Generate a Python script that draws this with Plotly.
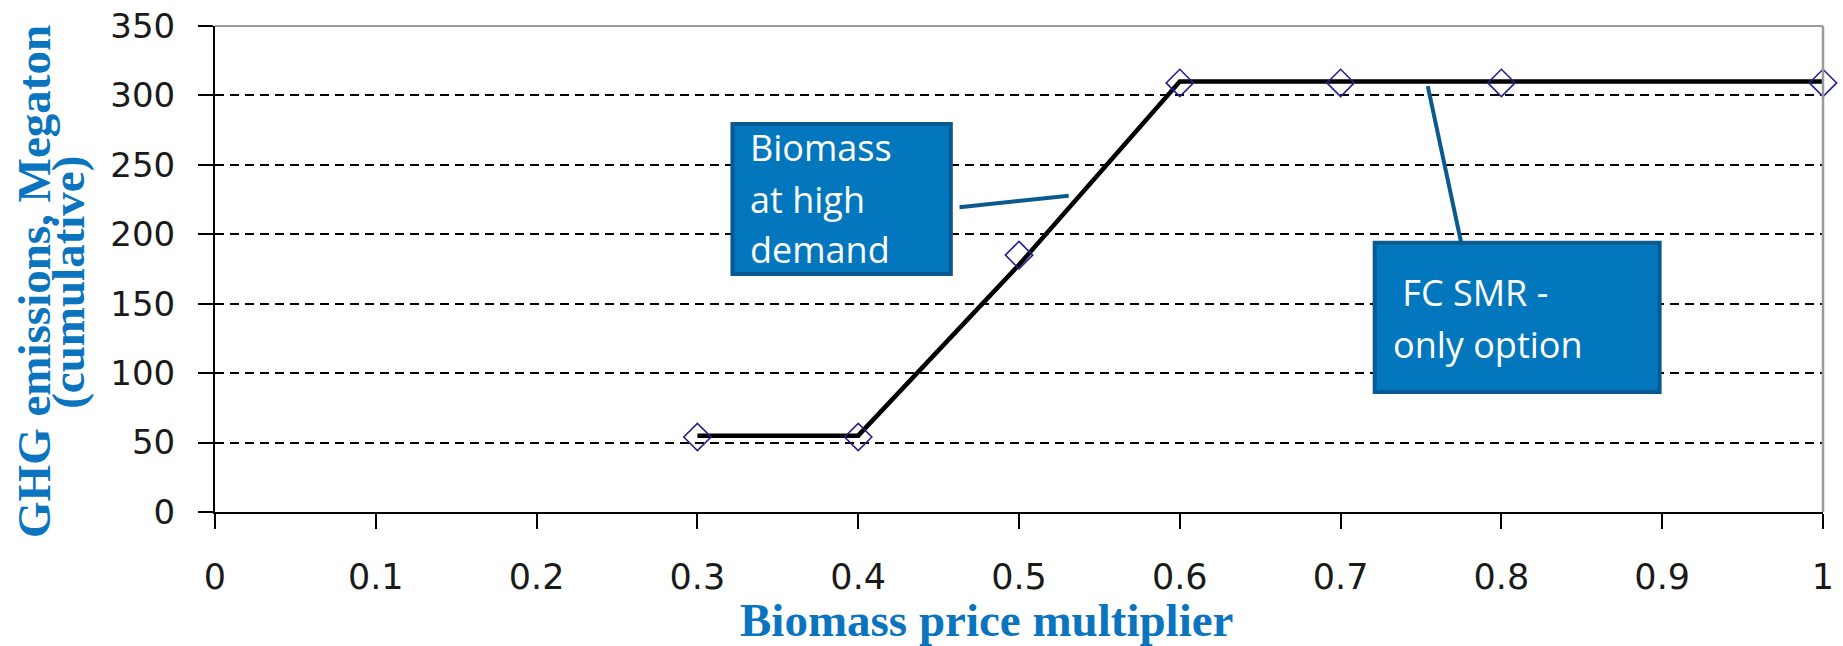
import plotly.graph_objects as go

# ---- data ----
price_multiplier = [0.3, 0.4, 0.5, 0.6, 0.7, 0.8, 1.0]
ghg_markers = [54, 54, 185, 309, 309, 309, 309]
ghg_line = [55, 55, 178, 310, 310, 310, 310]

x_tickvals = [0, 0.1, 0.2, 0.3, 0.4, 0.5, 0.6, 0.7, 0.8, 0.9, 1.0]
x_ticklabels = ["0", "0.1", "0.2", "0.3", "0.4", "0.5", "0.6", "0.7", "0.8", "0.9", "1"]
y_tickvals = [0, 50, 100, 150, 200, 250, 300, 350]

x_title = "Biomass price multiplier"
y_title_1 = "GHG emissions, Megaton"
y_title_2 = "(cumulative)"
callout_1 = ["Biomass", "at high", "demand"]
callout_2 = ["\u00a0FC SMR -", "only option"]

TITLE_BLUE = "#0A74BE"
BOX_FILL = "#0277BD"
BOX_EDGE = "#0B5A8F"

fig = go.Figure()

fig.add_trace(go.Scatter(
    x=price_multiplier, y=ghg_line, mode="lines",
    line=dict(color="black", width=4.5), cliponaxis=False, showlegend=False,
))
fig.add_trace(go.Scatter(
    x=price_multiplier, y=ghg_markers, mode="markers",
    marker=dict(symbol="diamond-open", size=21, color="#22228C",
                line=dict(width=1.6, color="#22228C")),
    cliponaxis=False, showlegend=False,
))

shapes = [
    # gray top and right frame
    dict(type="line", xref="paper", yref="paper", x0=0, x1=1, y0=1, y1=1,
         line=dict(color="#9A9A9A", width=2), layer="above"),
    dict(type="line", xref="paper", yref="paper", x0=1, x1=1, y0=0, y1=1,
         line=dict(color="#9A9A9A", width=2.5), layer="above"),
    # callout boxes
    dict(type="rect", xref="x", yref="y", x0=0.3218, x1=0.4576, y0=171.4, y1=279.4,
         fillcolor=BOX_FILL, line=dict(color=BOX_EDGE, width=4), layer="above"),
    dict(type="rect", xref="x", yref="y", x0=0.7212, x1=0.8984, y0=86.4, y1=193.9,
         fillcolor=BOX_FILL, line=dict(color=BOX_EDGE, width=4), layer="above"),
    # leader lines
    dict(type="line", xref="x", yref="y", x0=0.4630, y0=219.4, x1=0.5309, y1=227.8,
         line=dict(color=BOX_EDGE, width=4), layer="above"),
    dict(type="line", xref="x", yref="y", x0=0.7753, y0=192.3, x1=0.7542, y1=306.7,
         line=dict(color=BOX_EDGE, width=4), layer="above"),
]

annotations = []
box_font = dict(family="Open Sans", size=36, color="white")
for txt, yv in zip(callout_1, [262.4, 225.2, 189.2]):
    annotations.append(dict(x=0.3315, y=yv, xref="x", yref="y", text=txt,
                            showarrow=False, xanchor="left", yanchor="middle",
                            font=box_font))
for txt, yv in zip(callout_2, [158.4, 120.8]):
    annotations.append(dict(x=0.7313, y=yv, xref="x", yref="y", text=txt,
                            showarrow=False, xanchor="left", yanchor="middle",
                            font=box_font))

title_font = dict(family="Liberation Serif", size=47, color=TITLE_BLUE, weight="bold")
annotations.append(dict(x=0.4797, y=-0.2224, xref="paper", yref="paper",
                        text="<b>%s</b>" % x_title, showarrow=False,
                        xanchor="center", yanchor="middle", font=title_font))
annotations.append(dict(x=-0.1126, y=0.4753, xref="paper", yref="paper",
                        text="<b>%s</b>" % y_title_1, showarrow=False, textangle=-90,
                        xanchor="center", yanchor="middle", font=title_font))
annotations.append(dict(x=-0.0915, y=0.4733, xref="paper", yref="paper",
                        text="<b>%s</b>" % y_title_2, showarrow=False, textangle=-90,
                        xanchor="center", yanchor="middle", font=title_font))

fig.update_layout(
    width=1843, height=646,
    margin=dict(l=215, r=20, t=26, b=134, autoexpand=False),
    paper_bgcolor="white", plot_bgcolor="white",
    shapes=shapes, annotations=annotations,
    showlegend=False,
    xaxis=dict(
        range=[0, 1], tickmode="array", tickvals=x_tickvals, ticktext=x_ticklabels,
        showgrid=False, zeroline=False, showline=True, linecolor="black", linewidth=2,
        ticks="outside", ticklen=15, tickwidth=2, tickcolor="black",
        tickfont=dict(family="DejaVu Sans", size=35, color="#1a1a1a"),
        ticklabelstandoff=18, ticklabeloverflow="allow",
    ),
    yaxis=dict(
        range=[0, 350], tickmode="array", tickvals=y_tickvals,
        showgrid=True, gridcolor="black", gridwidth=2, griddash="9px,6px",
        zeroline=False, showline=True, linecolor="black", linewidth=2,
        ticks="outside", ticklen=15, tickwidth=2, tickcolor="black",
        tickfont=dict(family="DejaVu Sans", size=34, color="#1a1a1a"),
        ticklabelstandoff=16, ticklabeloverflow="allow",
    ),
)

fig.write_html("out.html", config={"displayModeBar": False},
               post_script="document.body.style.margin='0px';")
